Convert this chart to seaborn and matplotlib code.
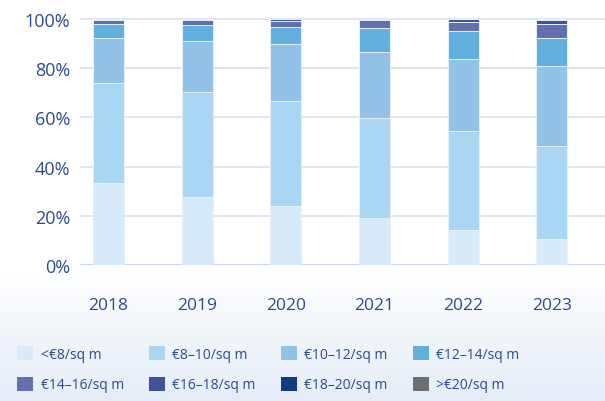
import numpy as np
import seaborn as sns
import matplotlib.pyplot as plt
from matplotlib.colors import LinearSegmentedColormap
from matplotlib.patches import Patch
from matplotlib.ticker import FuncFormatter

years = ['2018', '2019', '2020', '2021', '2022', '2023']
bands = ['<€8/sq m', '€8–10/sq m', '€10–12/sq m', '€12–14/sq m',
         '€14–16/sq m', '€16–18/sq m', '€18–20/sq m', '>€20/sq m']

# share of space per rent band, %
below_8 = [33.5, 27.5, 23.8, 18.9, 14.4, 10.7]
eur_8_10 = [40.5, 42.8, 42.9, 40.9, 40.0, 37.6]
eur_10_12 = [18.2, 20.7, 23.1, 26.7, 29.3, 32.6]
eur_12_14 = [5.8, 6.7, 6.9, 9.9, 11.4, 11.3]
eur_14_16 = [1.4, 1.8, 2.5, 3.0, 3.6, 5.9]
eur_16_18 = [0.6, 0.5, 0.8, 0.6, 1.3, 1.4]
eur_18_20 = [0.0, 0.0, 0.0, 0.0, 0.0, 0.5]
above_20 = [0.0, 0.0, 0.0, 0.0, 0.0, 0.0]

series = [below_8, eur_8_10, eur_10_12, eur_12_14,
          eur_14_16, eur_16_18, eur_18_20, above_20]
colors = ['#d6eafa', '#a8d6f3', '#93c2e8', '#62b0e0',
          '#6370ad', '#3e549b', '#0f3a85', '#6b6e72']

text_col = '#2d4b8c'

sns.set_style('white')
plt.rcParams['font.family'] = ['Open Sans', 'DejaVu Sans']

fig = plt.figure(figsize=(6.05, 4.02), dpi=100)

# soft gradient behind the lower part of the figure
bg = fig.add_axes([0, 0, 1, 1], zorder=-10)
grad = np.clip((np.linspace(0, 402, 402) - 270) / 132.0, 0, 1)[:, None]
cmap = LinearSegmentedColormap.from_list('bg', ['#ffffff', '#e4edf7'])
bg.imshow(grad, aspect='auto', cmap=cmap, extent=[0, 1, 0, 1], vmin=0, vmax=1)
bg.axis('off')

ax = fig.add_axes([80 / 605, 1 - 266 / 402, 1 - 80 / 605, (266 - 15) / 402])
ax.patch.set_alpha(0)

bottom = np.zeros(len(years))
for vals, c in zip(series, colors):
    sns.barplot(x=years, y=vals, bottom=bottom, color=c, saturation=1,
                width=0.35, edgecolor='#e6f1fb', linewidth=0.7,
                errorbar=None, ax=ax, zorder=3)
    bottom = bottom + np.array(vals)

ax.set_ylim(0, 102)
ax.set_xlim(-0.32, 5.6)
ax.set_yticks([0, 20, 40, 60, 80, 100])
ax.yaxis.set_major_formatter(FuncFormatter(lambda v, p: f'{v:.0f}%'))
ax.yaxis.grid(True, color='#dde3ee', linewidth=1.3)
ax.set_axisbelow(True)
ax.axhline(0, color='#c9d3e7', linewidth=1.3, zorder=2)
sns.despine(ax=ax, left=True, bottom=True)
ax.tick_params(axis='y', length=0, pad=7, labelsize=13, labelcolor=text_col)
ax.tick_params(axis='x', length=0, pad=23, labelsize=12.5, labelcolor=text_col)
ax.set_xlabel('')
ax.set_ylabel('')

handles = [Patch(facecolor=c, edgecolor='none', label=b) for c, b in zip(colors, bands)]
order = [0, 4, 1, 5, 2, 6, 3, 7]
leg = fig.legend([handles[i] for i in order], [bands[i] for i in order],
                 ncol=4, loc='upper left', bbox_to_anchor=(17 / 605, 1 - 347 / 402),
                 frameon=False, fontsize=10, handlelength=1.15, handleheight=1.15,
                 handletextpad=0.55, columnspacing=1.8, labelspacing=1.1,
                 borderpad=0, borderaxespad=0)
for t in leg.get_texts():
    t.set_color(text_col)

fig.savefig('out.png', dpi=100)
